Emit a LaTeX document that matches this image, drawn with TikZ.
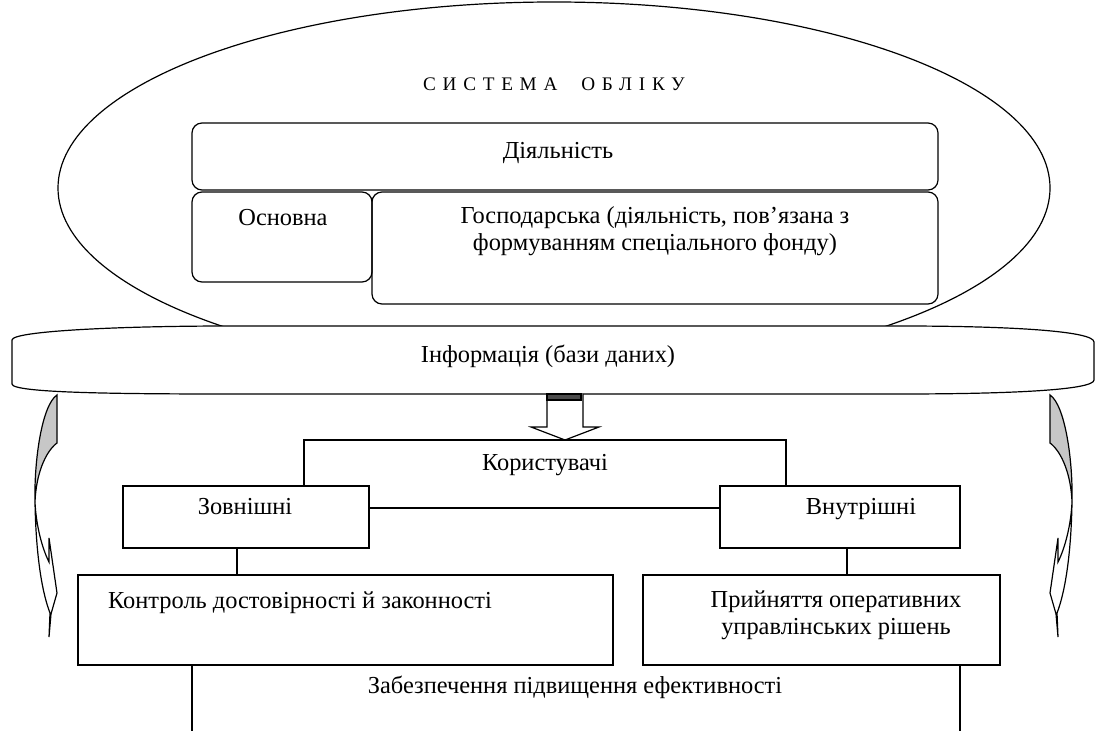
\documentclass[tikz,border=0pt]{standalone}
\usepackage{fontspec}
\setmainfont{Liberation Serif}
\usetikzlibrary{calc}

\tikzset{
  ramka/.style={draw, line width=0.6pt, inner sep=0pt, outer sep=0pt},
  okrug/.style={ramka, rounded corners=5pt},
  tovsta/.style={ramka, line width=1pt},
  napys/.style={font=\fontsize{12.2}{13.5}\selectfont, align=center, inner sep=0pt},
  ryadok/.style={napys, text height=1.6ex, text depth=0.45ex},
  liniya/.style={line width=0.6pt}
}

\begin{document}
\begin{tikzpicture}[x=0.5pt,y=-0.5pt]
\useasboundingbox (0,0) rectangle (1096,731);
% sistema obliku
\draw[liniya] (554,188) ellipse [x radius=248pt, y radius=93pt];
\node[ryadok, font=\fontsize{9.6}{11}\selectfont\addfontfeature{LetterSpace=35}] (nazva) at (554,85) {СИСТЕМА\hspace{12pt}ОБЛІКУ};
\node[okrug, minimum width=373pt, minimum height=33.5pt] (dial) at (565,156.5) {};
\node[ryadok] (t-dial) at (558,153) {Діяльність};
\node[okrug, minimum width=90pt, minimum height=45pt] (osn) at (282,237) {};
\node[ryadok] (t-osn) at (283,220) {Основна};
\node[okrug, minimum width=283pt, minimum height=56pt] (gosp) at (655,248) {};
\node[napys] (t-gosp) at (655,231) {Господарська (діяльність, пов’язана з\\формуванням спеціального фонду)};
% informatsiya
\filldraw[liniya, fill=white] (12,340) .. controls (12,331) and (120,326) .. (230,326) -- (900,326)
  .. controls (1010,326) and (1094,331) .. (1094,342) -- (1094,380)
  .. controls (1094,390) and (1010,394) .. (900,394) -- (230,394)
  .. controls (120,394) and (12,393) .. (12,384) -- cycle;
\node[ryadok] (info) at (548,357) {Інформація (бази даних)};
% strilka vnyz
\coordinate (str) at (564,394);
\draw[liniya, fill=white] (str) ++(-17,0) -- ++(0,33) -- ++(-16,0) -- ++(34,13) -- ++(34,-13) -- ++(-16,0) -- ++(0,-33);
\draw[liniya, fill=black!70] ($(str)+(-17,0)$) rectangle ($(str)+(17,6)$);
% korystuvachi
\node[ryadok] (koryst) at (545,465) {Користувачі};
\node[ramka, minimum width=123pt, minimum height=31pt] (zovn) at (246,517) {};
\node[ryadok] (t-zovn) at (245,509) {Зовнішні};
\node[ramka, minimum width=120pt, minimum height=31pt] (vnutr) at (840,517) {};
\node[ryadok] (t-vnutr) at (861,509) {Внутрішні};
\coordinate (k-l) at (304,440);
\coordinate (k-r) at (786,440);
\draw[liniya] (k-l |- zovn.north) -- (k-l) -- (k-r) -- (k-r |- vnutr.north);
\draw[liniya] ([yshift=4.5pt]zovn.east) -- ([yshift=4.5pt]vnutr.west);
% kontrol i rishennya
\node[tovsta, minimum width=267.5pt, minimum height=45pt] (kontrol) at (345.5,620) {};
\node[ryadok] (t-kontrol) at (300,603) {Контроль достовірності й законності};
\node[tovsta, minimum width=178.5pt, minimum height=45pt] (pryin) at (821.5,620) {};
\node[napys] (t-pryin) at (836,615) {Прийняття оперативних\\управлінських рішень};
\draw[liniya] ([xshift=-4.5pt]zovn.south) -- ([xshift=-4.5pt]zovn.south |- kontrol.north);
\draw[liniya] ([xshift=3.5pt]vnutr.south) -- ([xshift=3.5pt]vnutr.south |- pryin.north);
% efektyvnist
\coordinate (z-l) at (192,731);
\coordinate (z-r) at (960,731);
\draw[liniya] (z-l |- kontrol.south) -- (z-l);
\draw[liniya] (z-r |- pryin.south) -- (z-r);
\node[ryadok] (zabezp) at (575,688) {Забезпечення підвищення ефективності};
% bokovi strilky
\foreach \s/\dx in {1/0,-1/1107} {
  \begin{scope}[shift={(\dx,0)}, xscale=\s]
    \filldraw[liniya, fill=black!22] (57,395) -- (57,443) .. controls (45,452) and (36,475) .. (35,502)
      .. controls (34,460) and (42,405) .. (57,395) -- cycle;
    \draw[liniya, fill=white] (35,502) .. controls (36,560) and (43,595) .. (50,613) -- (49,637) -- (51,614)
      -- (57,593) -- (49,538) -- (49,562) .. controls (42,548) and (36,525) .. (35,502) -- cycle;
  \end{scope}
}
\end{tikzpicture}
\end{document}
